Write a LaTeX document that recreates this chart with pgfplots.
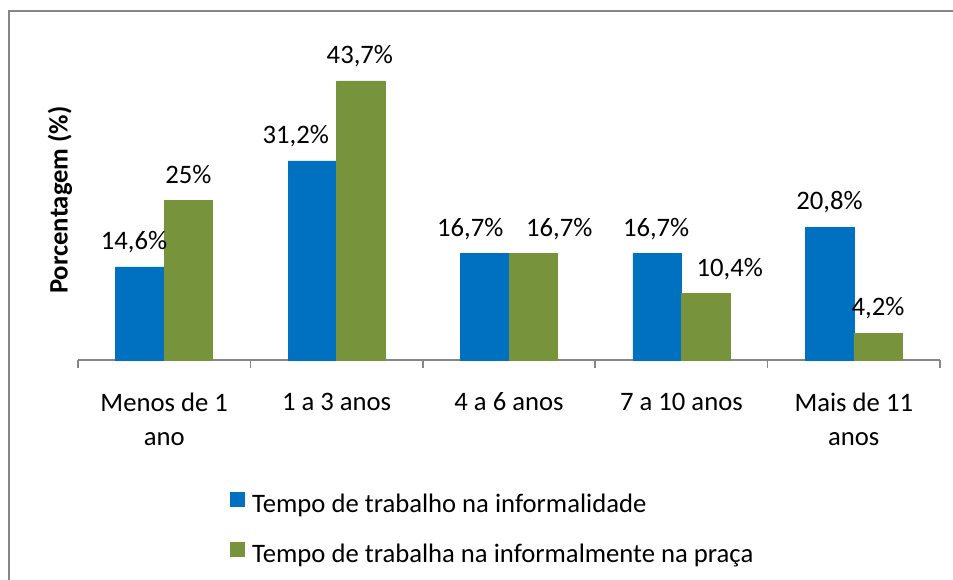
\documentclass[border=0pt]{standalone}
\usepackage{fontspec}
\setmainfont{Carlito}
\usepackage{pgfplots}
\usepackage{pgfplotstable}
\pgfplotsset{compat=1.18}
\definecolor{cblue}{HTML}{0070C0}
\definecolor{cgreen}{HTML}{77933C}
\definecolor{cgray}{HTML}{868686}

\pgfplotstableread{
x b g dxb dxg
0 14.6 25.0 -4.5 0
1 31.2 43.7 -12.4 -0.75
2 16.7 16.7 -10.9 19.5
3 16.7 10.4 -0.75 18
4 20.8 4.2 0 0
}\data

\begin{document}
\begin{tikzpicture}
\useasboundingbox (0,0) rectangle (714.75pt,434.25pt);
\draw[cgray, line width=2pt] (6.75pt,-5pt) -- (6.75pt,426pt) -- (720pt,426pt);
\begin{axis}[
  at={(58.5pt,164.25pt)}, anchor=south west,
  scale only axis, width=646.5pt, height=239.44pt,
  xmin=-0.5, xmax=4.5, ymin=0, ymax=50,
  axis x line*=bottom, axis y line=none,
  x axis line style={cgray, line width=1.1pt, -},
  xtick={0,...,4},
  xticklabels={{Menos de 1\\ano},{1 a 3 anos},{4 a 6 anos},{7 a 10 anos},{Mais de 11\\anos}},
  major tick length=0pt,
  xticklabel style={align=center, font=\fontsize{20}{25.5}\selectfont, text=black, yshift=-21pt},
  extra x ticks={-0.5,0.5,1.5,2.5,3.5,4.5},
  extra x tick labels={},
  extra x tick style={major tick length=6pt, tick align=outside, tick style={cgray, line width=1.1pt}},
  ybar=0pt, bar width=36.4pt,
  clip=false,
  nodes near coords={\pgfmathprintnumber[assume math mode=true,use comma,fixed,precision=1]{\pgfplotspointmeta}\%},
  every node near coord/.append style={font=\fontsize{20}{24}\selectfont, text=black, anchor=base, yshift=13pt, xshift=\dx pt},
  legend style={draw=none, fill=none, inner sep=0pt,
    at={(axis description cs:0.1763,-0.4113)}, anchor=north west,
    font=\fontsize{20}{24}\selectfont, row sep=18pt,
    nodes={inner sep=0pt, text height=14pt, text depth=4pt},
    /tikz/every odd column/.append style={column sep=5.25pt}},
  legend cell align=left,
  legend image code/.code={\path[#1,draw=none] (0pt,-0.5pt) rectangle (11.25pt,10.75pt);},
]
\addplot[fill=cblue, draw=cblue, line width=0.4pt, visualization depends on={\thisrow{dxb} \as \dx}] table[x=x, y=b] {\data};
\addplot[fill=cgreen, draw=cgreen, line width=0.4pt, visualization depends on={\thisrow{dxg} \as \dx}] table[x=x, y=g] {\data};
\node[rotate=90, anchor=center, font=\fontsize{20}{24}\selectfont\bfseries] at (axis description cs:-0.0209,0.501) {Porcentagem (\%)};
\legend{Tempo de trabalho na informalidade, Tempo de trabalha na informalmente na praça}
\end{axis}
\end{tikzpicture}
\end{document}
